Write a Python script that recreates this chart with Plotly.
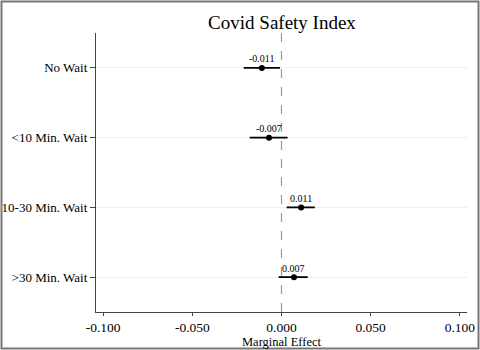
import plotly.graph_objects as go

categories = ["No Wait", "<10 Min. Wait", "10-30 Min. Wait", ">30 Min. Wait"]
estimates = [-0.011, -0.007, 0.011, 0.007]
ci_low = [-0.0212, -0.0178, 0.0029, -0.0016]
ci_high = [-0.0008, 0.0034, 0.0187, 0.0147]
labels = ["-0.011", "-0.007", "0.011", "0.007"]
x_ticks = [-0.1, -0.05, 0.0, 0.05, 0.1]
x_ticklabels = ["-0.100", "-0.050", "0.000", "0.050", "0.100"]

FONT = "Liberation Serif, Times New Roman, serif"

fig = go.Figure()
fig.add_trace(go.Scatter(
    x=estimates, y=categories, mode="markers",
    marker=dict(color="black", size=6),
    error_x=dict(type="data", symmetric=False,
                 array=[h - e for h, e in zip(ci_high, estimates)],
                 arrayminus=[e - l for l, e in zip(ci_low, estimates)],
                 color="black", thickness=1.8, width=0),
    showlegend=False, hoverinfo="skip",
))
for xv, cat, lab in zip(estimates, categories, labels):
    fig.add_annotation(x=xv, y=cat, text=lab, showarrow=False,
                       yshift=9, yanchor="middle", xanchor="center",
                       font=dict(family=FONT, size=10, color="black"))

W, H = 480, 350
ml, mr, mt, mb = 96, 13, 33, 38
pw, ph = W - ml - mr, H - mt - mb

fig.add_shape(type="line", xref="x", yref="paper", x0=0, x1=0, y0=0, y1=1,
              line=dict(color="#999999", width=1.2, dash="dash"), layer="below")
fig.add_shape(type="rect", xref="paper", yref="paper",
              x0=(1.5 - ml) / pw, x1=(W - 1.5 - ml) / pw,
              y0=-(H - 1.5 - mt - ph) / ph, y1=1 + (mt - 1.5) / ph,
              line=dict(color="#777777", width=2))

fig.update_layout(
    width=W, height=H,
    margin=dict(l=ml, r=mr, t=mt, b=mb, autoexpand=False),
    paper_bgcolor="white", plot_bgcolor="white",
    font=dict(family=FONT, color="black", size=13),
    title=dict(text="Covid Safety Index", x=(282) / W, xanchor="center",
               y=1 - 22 / H, yanchor="middle",
               font=dict(family=FONT, size=19, color="black")),
    xaxis=dict(range=[-0.104, 0.104], tickvals=x_ticks, ticktext=x_ticklabels,
               automargin=False,
               showgrid=False, zeroline=False, showline=True, linecolor="#444444",
               linewidth=1.2, ticks="outside", ticklen=3, tickcolor="#444444",
               tickfont=dict(family=FONT, size=13.5),
               title=dict(text="Marginal Effect", standoff=2,
                          font=dict(family=FONT, size=12.5))),
    yaxis=dict(range=[3.5, -0.5], categoryorder="array", categoryarray=categories,
               automargin=False,
               showgrid=True, gridcolor="#eeeeee", gridwidth=1, zeroline=False,
               showline=True, linecolor="#444444", linewidth=1.2,
               ticks="outside", ticklen=5, tickcolor="#444444",
               tickfont=dict(family=FONT, size=13)),
)

fig.write_html("out.html", config={"displayModeBar": False},
               post_script="document.body.style.margin='0';document.body.style.padding='0';")
